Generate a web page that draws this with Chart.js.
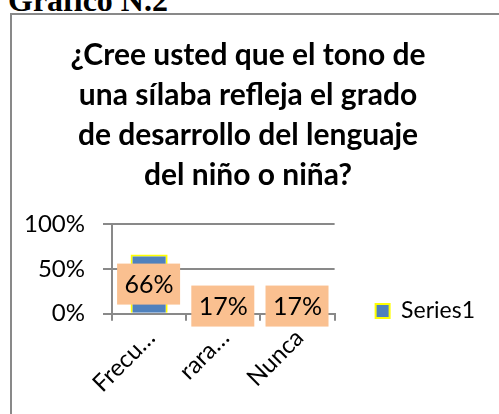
<!DOCTYPE html>
<html>
<head>
<meta charset="utf-8">
<script src="https://cdn.jsdelivr.net/npm/chart.js@4/dist/chart.umd.min.js"></script>
<style>
  html, body { margin: 0; padding: 0; overflow: hidden; background: #fff; width: 499px; height: 414px; }
  #heading { position: absolute; left: 8px; top: -16px; font: bold 32px/32px "Liberation Serif", serif; color: #000; white-space: nowrap; }
  #box { position: absolute; left: 10px; top: 13px; width: 520px; height: 420px; border: 2px solid #898989; background: #fff; }
  #chart { display: block; }
</style>
</head>
<body>
<div id="heading">Grafico N.2</div>
<div id="box"><canvas id="chart" width="520" height="420"></canvas></div>
<script>
const categories = ["Frecu…", "rara…", "Nunca"];
const values = [0.66, 0.17, 0.17];
const seriesName = "Series1";
const titleLines = [
  "¿Cree usted que el tono de",
  "una sílaba refleja el grado",
  "de desarrollo del lenguaje",
  "del niño o niña?"
];

const font = "Lato";
const padLeft = -1;

// boxes with the percentages, centred on each bar
const barLabels = {
  id: "barLabels",
  afterDatasetsDraw(chart) {
    const ctx = chart.ctx;
    const meta = chart.getDatasetMeta(0);
    ctx.save();
    ctx.font = "25px " + font;
    ctx.textAlign = "center";
    ctx.textBaseline = "middle";
    meta.data.forEach((bar, i) => {
      const cy = (bar.y + bar.base) / 2;
      ctx.fillStyle = "#FAC090";
      ctx.fillRect(bar.x - 32, cy - 20, 63, 41);
      ctx.fillStyle = "#000";
      ctx.fillText(Math.round(values[i] * 100) + "%", bar.x, cy + 1);
    });
    ctx.restore();
  }
};

new Chart(document.getElementById("chart"), {
  type: "bar",
  data: {
    labels: categories,
    datasets: [{
      label: seriesName,
      data: values,
      backgroundColor: "#4F81BD",
      borderColor: "#FFFF00",
      borderWidth: 2,
      categoryPercentage: 1,
      barPercentage: 0.5
    }]
  },
  options: {
    responsive: false,
    animation: false,
    layout: { padding: { left: padLeft, right: 47, top: 20, bottom: 34 } },
    scales: {
      x: {
        grid: { drawOnChartArea: false, color: "#898989", lineWidth: 2, tickLength: 7 },
        border: { color: "#898989", width: 2 },
        ticks: { color: "#000", font: { family: font, size: 24 }, minRotation: 45, maxRotation: 45, labelOffset: 2 }
      },
      y: {
        min: 0,
        max: 1,
        afterFit: s => { s.width = 100 - padLeft; },
        grid: { color: "#898989", lineWidth: 2, tickLength: 9 },
        border: { color: "#898989", width: 2 },
        ticks: {
          stepSize: 0.5,
          color: "#000",
          font: { family: font, size: 24 },
          padding: 18,
          callback: v => Math.round(v * 100) + "%"
        }
      }
    },
    plugins: {
      title: {
        display: true,
        text: titleLines,
        color: "#000",
        font: { family: font, size: 30, weight: "bold", lineHeight: 40 / 30 },
        padding: { top: 0, bottom: 29 }
      },
      legend: {
        position: "right",
        maxWidth: 400,
        // empty title only used as a spacer to push the entry down
        title: { display: true, text: " ", font: { size: 10 }, padding: { top: 174, bottom: 0 } },
        labels: {
          color: "#000",
          font: { family: font, size: 23 },
          boxWidth: 14,
          boxHeight: 14,
          padding: 41
        }
      },
      tooltip: { enabled: false }
    }
  },
  plugins: [barLabels]
});
</script>
</body>
</html>
